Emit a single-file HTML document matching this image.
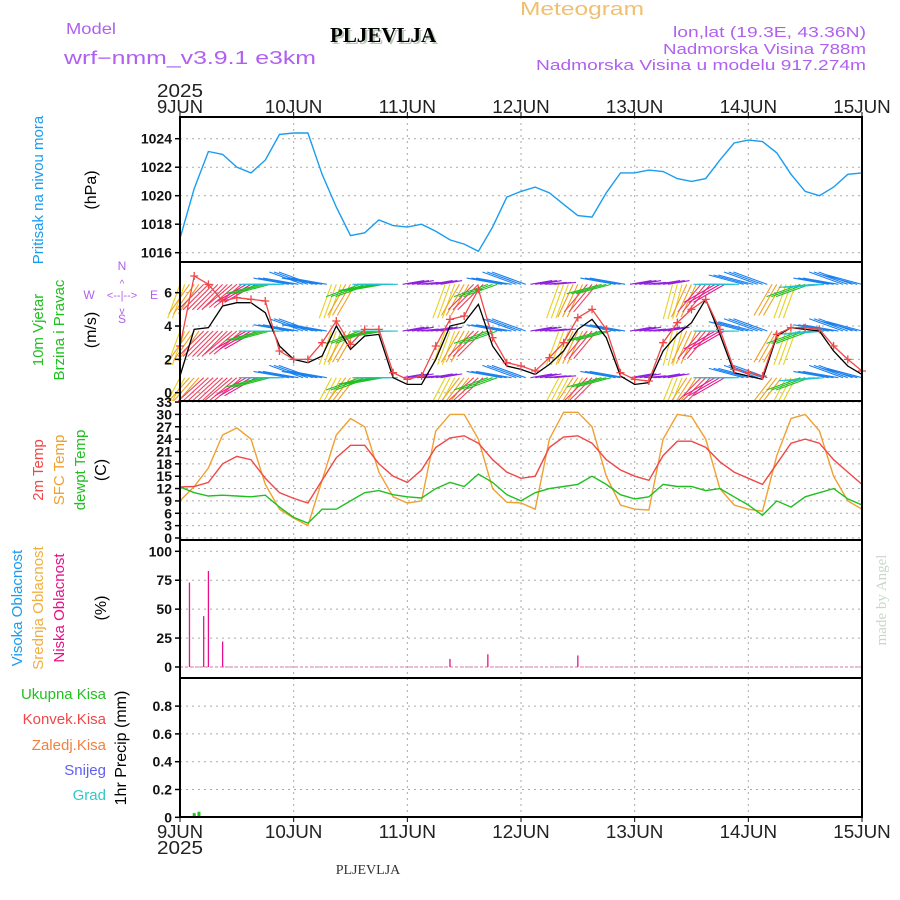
<!DOCTYPE html>
<html><head><meta charset="utf-8"><style>
body{margin:0;background:#fff}
svg{display:block;font-family:"Liberation Sans",sans-serif}
</style></head><body>
<svg id="chart" width="900" height="900" viewBox="0 0 900 900" xmlns="http://www.w3.org/2000/svg">
<rect width="900" height="900" fill="#fff"/>
<g id="header">
<text x="66" y="34" fill="#b060f0" font-size="16" textLength="50" lengthAdjust="spacingAndGlyphs">Model</text>
<text x="64" y="64" fill="#b060f0" font-size="18" textLength="252" lengthAdjust="spacingAndGlyphs">wrf−nmm_v3.9.1  e3km</text>
<text x="332" y="44" fill="#b8c8b8" font-size="21" font-weight="bold" font-family="Liberation Serif,serif">PLJEVLJA</text>
<text x="330" y="42" fill="#000" font-size="21" font-weight="bold" font-family="Liberation Serif,serif">PLJEVLJA</text>
<text x="520" y="15" fill="#f0c070" font-size="18" textLength="124" lengthAdjust="spacingAndGlyphs">Meteogram</text>
<text x="866" y="37" fill="#b060f0" font-size="15" text-anchor="end" textLength="193" lengthAdjust="spacingAndGlyphs">lon,lat (19.3E, 43.36N)</text>
<text x="866" y="54" fill="#b060f0" font-size="15" text-anchor="end" textLength="203" lengthAdjust="spacingAndGlyphs">Nadmorska Visina 788m</text>
<text x="866" y="70" fill="#b060f0" font-size="15" text-anchor="end" textLength="330" lengthAdjust="spacingAndGlyphs">Nadmorska Visina u modelu 917.274m</text>
<text x="368" y="874" fill="#333" font-size="14" text-anchor="middle" font-family="Liberation Serif,serif">PLJEVLJA</text>
<text transform="translate(886,600) rotate(-90)" fill="#c8d8c8" font-size="15" text-anchor="middle" font-family="Liberation Serif,serif">made by Angel</text>
</g>
<g id="g-grid"></g>
<g id="g-marks"></g>
<g id="g-axes"></g>
<g id="g-labels"></g>
</svg>
<script>
// ---- data (3-hourly from 9 JUN 00 UTC) ----
const hours = [0,3,6,9,12,15,18,21,24,27,30,33,36,39,42,45,48,51,54,57,60,63,66,69,72,75,78,81,84,87,90,93,96,99,102,105,108,111,114,117,120,123,126,129,132,135,138,141,144];
const dayLabels = ["9JUN","10JUN","11JUN","12JUN","13JUN","14JUN","15JUN"];
const pressure = [1017,1020.5,1023.1,1022.9,1022,1021.6,1022.5,1024.3,1024.4,1024.4,1021.5,1019.2,1017.2,1017.4,1018.3,1017.9,1017.8,1018.0,1017.5,1016.9,1016.6,1016.1,1017.8,1019.9,1020.3,1020.6,1020.2,1019.4,1018.6,1018.5,1020.2,1021.6,1021.6,1021.8,1021.7,1021.2,1021.0,1021.2,1022.5,1023.7,1023.9,1023.8,1023,1021.5,1020.3,1020,1020.6,1021.5,1021.6];
const windSpeed = [1,3.8,3.9,5.2,5.4,5.4,4.8,2.8,2,1.8,2.2,4,2.6,3.4,3.5,0.9,0.5,0.5,2,4,4.2,5.3,2.8,1.6,1.4,1.1,1.7,2.5,3.8,4.4,3.3,1,0.5,0.6,2.5,3.5,4.2,5.6,3.5,1.2,1,0.8,3.4,3.9,3.8,3.7,2.5,1.6,1.1];
const windGust = [2.8,7,6.5,5.5,5.7,5.6,5.5,2.5,2,2,3,4.3,2.9,3.8,3.8,1.2,0.8,1.0,2.8,4.4,4.6,6.2,3.3,1.8,1.6,1.3,2.1,3,4.5,5,3.8,1.2,0.8,0.7,3,4.2,5,5.6,3.8,1.4,1.2,1,3.5,3.9,3.9,3.8,2.8,2,1.3];
const windDir = [20,35,45,45,50,60,75,90,100,110,100,20,30,70,80,90,260,265,260,20,30,45,70,100,110,260,265,20,25,40,75,100,260,265,260,15,25,40,60,90,105,110,30,20,70,85,100,110,105];
const temp2m = [12.4,12.5,13.5,18,19.8,19,14.5,11,9.6,8.5,14,19.5,22.5,22.5,18,15,13.5,16.5,22,24.3,24.8,23,19,16,14.5,15,22,24.5,24.8,23,19,16.5,15,14,20,23.5,23.5,22,18.5,16,14.5,13,18,23,24,23,19,16,13];
const tempSfc = [9,12.5,17,25,26.7,24,13,7,4.8,3,14,25,29,27,16,10,8.5,9,26,30,30,24,12,8.7,8.5,7,24,30.5,30.5,27,15,8,7,6.8,24,30,29.5,24,12,8,7,6.5,20,29,30,26,15,9,7];
const tempDew = [12.4,11,10.2,10.4,10.2,10,10.4,7.5,5,3.6,7,7,9,11,11.5,10.5,10,9.7,12,13.5,12.5,15.5,13.5,10.5,9,11,12,12.5,13,15,13,10.5,9.5,10,13,12.5,12.5,11.5,12,10,8,5.5,9,7.5,10,11,12,9.5,8];
const lowCloudHours = [2,5,6,9,57,65,84];
const lowCloudValues = [73,44,83,22,7,11,10];
const precipHours = [3,4];
const precipValues = [0.03,0.04];
const pressureTicks = [1016,1018,1020,1022,1024];
const windTicks = [0,2,4,6];
const tempTicks = [0,3,6,9,12,15,18,21,24,27,30,33];
const cloudTicks = [0,25,50,75,100];
const precipTicks = [0,0.2,0.4,0.6,0.8];
const precipTickLabels = ["0","0.2","0.4","0.6","0.8"];

// ---- layout ----
const X0=180,X1=862;
const xs = h => X0 + h*(X1-X0)/144;
const panels = {
  p:{top:117,bot:262,y:v=>138.7+(1024-v)*14.25},
  w:{top:262,bot:401,y:v=>392.7-v*16.67},
  t:{top:401,bot:540,y:v=>538-v*4.12},
  c:{top:540,bot:678,y:v=>667-v*1.157},
  r:{top:678,bot:817,y:v=>817.3-v*139}
};
const NS="http://www.w3.org/2000/svg";
function mk(parent,tag,attrs){const e=document.createElementNS(NS,tag);for(const k in attrs)e.setAttribute(k,attrs[k]);parent.appendChild(e);return e;}
const gGrid=document.getElementById('g-grid'),gM=document.getElementById('g-marks'),gA=document.getElementById('g-axes'),gL=document.getElementById('g-labels');

function panelAxes(key,ticks,labels,name){
  const P=panels[key];
  for(let d=1;d<6;d++){
    const l=mk(gGrid,'line',{x1:xs(d*24),x2:xs(d*24),y1:P.top,y2:P.bot,stroke:'#aaa','stroke-dasharray':'2,4'});
    
    
  }
  ticks.forEach((t,i)=>{
    const y=P.y(t);
    const g=mk(gGrid,'line',{x1:X0,x2:X1,y1:y,y2:y,stroke:'#aaa','stroke-dasharray':'2,4'});
    
    
    mk(gA,'line',{x1:X0-5,x2:X0,y1:y,y2:y,stroke:'#000','stroke-width':1.5});
    const tx=mk(gA,'text',{x:X0-8,y:y+5,'text-anchor':'end','font-size':14,'font-weight':'bold',fill:'#111'});
    tx.textContent=labels?labels[i]:String(t);
    
    
  });
  const r=mk(gA,'rect',{x:X0,y:P.top,width:X1-X0,height:P.bot-P.top,fill:'none',stroke:'#000','stroke-width':2});
  
  
}
panelAxes('p',pressureTicks,null,'pressure-panel');
panelAxes('w',windTicks,null,'wind-panel');
panelAxes('t',tempTicks,null,'temp-panel');
panelAxes('c',cloudTicks,null,'cloud-panel');
panelAxes('r',precipTicks,precipTickLabels,'precip-panel');

dayLabels.forEach((d,i)=>{
  const x=xs(i*24);
  mk(gA,'line',{x1:x,x2:x,y1:112,y2:117,stroke:'#000'});
  mk(gA,'line',{x1:x,x2:x,y1:817,y2:822,stroke:'#000'});
  const t1=mk(gA,'text',{x:x,y:113,'text-anchor':'middle','font-size':18,fill:'#222',textLength:d.length*11.5,lengthAdjust:'spacingAndGlyphs'});
  t1.textContent=d;
  
  
  const t2=mk(gA,'text',{x:x,y:838,'text-anchor':'middle','font-size':18,fill:'#222',textLength:d.length*11.5,lengthAdjust:'spacingAndGlyphs'});
  t2.textContent=d;
  
  
});
[[97],[854]].forEach(([y])=>{
  const t=mk(gA,'text',{x:X0,y:y,'text-anchor':'middle','font-size':18,fill:'#222',textLength:46,lengthAdjust:'spacingAndGlyphs'});
  t.textContent='2025';
  
  
});

function line(key,vals,color,name,w){
  const P=panels[key];
  const pts=vals.map((v,i)=>xs(hours[i]).toFixed(1)+','+P.y(v).toFixed(1)).join(' ');
  const l=mk(gM,'polyline',{points:pts,fill:'none',stroke:color,'stroke-width':w||1.4});
  
  
}
line('p',pressure,'#1a9cf0','pressure-line');

function dirColor(d){
  if(d>=200) return '#9020e0';
  if(d<=22) return '#e8d020';
  if(d<=35) return '#f0a020';
  if(d<=50) return '#f04060';
  if(d<=65) return '#e81890';
  if(d<=80) return '#20c020';
  if(d<=95) return '#20c0d0';
  return '#1a80f0';
}
const rows=[6.5,3.7,0.9];
const wg=mk(gM,'g',{'stroke-width':1.1});


for(let h=0;h<=144;h++){
  const i=Math.min(48,Math.round(h/3));
  const d=windDir[i], to=(d+180)*Math.PI/180;
  const L=d>=200?22:36;
  const dx=Math.sin(to)*L, dy=-Math.cos(to)*L;
  rows.forEach(r=>{
    const x=xs(h), y=panels.w.y(r);
    const x2=x+dx, y2=Math.min(panels.w.bot,Math.max(panels.w.top,y+dy));
    const a=mk(wg,'line',{x1:x,y1:y,x2:x2,y2:y2,stroke:dirColor(d)});
    
    
  });
}
line('w',windSpeed,'#000','wind-speed-line',1.3);
line('w',windGust,'#f04848','wind-gust-line',1.3);
windGust.forEach((v,i)=>{
  const x=xs(hours[i]),y=panels.w.y(v);
  const m=mk(gM,'path',{d:`M${x-4},${y}H${x+4}M${x},${y-4}V${y+4}`,stroke:'#f04848','stroke-width':1.3});
  
  
});

line('t',tempSfc,'#f0a030','sfc-temp-line');
line('t',temp2m,'#f04848','temp-2m-line');
line('t',tempDew,'#20c020','dewpoint-line');

const cz=panels.c.y(0);
const cb=mk(gM,'line',{x1:X0,x2:X1,y1:cz,y2:cz,stroke:'#e070b0','stroke-dasharray':'3,2'});


lowCloudHours.forEach((h,i)=>{
  const b=mk(gM,'line',{x1:xs(h),x2:xs(h),y1:cz,y2:panels.c.y(lowCloudValues[i]),stroke:'#e8108a','stroke-width':1.3});
  
  
});
precipHours.forEach((h,i)=>{
  const y=panels.r.y(precipValues[i]);
  const b=mk(gM,'rect',{x:xs(h)-1.5,y:y,width:3,height:panels.r.y(0)-y,fill:'#20c020'});
  
  
});

function vlab(x,y,txt,color,name,size){
  const t=mk(gL,'text',{transform:`translate(${x},${y}) rotate(-90)`,'text-anchor':'middle','font-size':size||15,fill:color});
  t.textContent=txt;
  
  
}
function hlab(x,y,txt,color,name,size,anchor){
  const t=mk(gL,'text',{x:x,y:y,'text-anchor':anchor||'end','font-size':size||15,fill:color});
  t.textContent=txt;
  
  
}
vlab(43,190,'Pritisak na nivou mora','#1a9cf0','pressure-title');
vlab(96,190,'(hPa)','#000','pressure-unit',16);
vlab(43,330,'10m Vjetar','#20c020','wind-title');
vlab(64,330,'Brzina i Pravac','#20c020','wind-subtitle');
vlab(96,330,'(m/s)','#000','wind-unit',16);
vlab(43,470,'2m Temp','#f04848','temp-2m-title');
vlab(64,470,'SFC Temp','#f0a030','sfc-temp-title');
vlab(85,470,'dewpt Temp','#20c020','dewpt-title');
vlab(106,470,'(C)','#000','temp-unit',16);
vlab(22,608,'Visoka Oblacnost','#1a9cf0','high-cloud-title');
vlab(43,608,'Srednja Oblacnost','#f0b040','mid-cloud-title');
vlab(64,608,'Niska Oblacnost','#e8108a','low-cloud-title');
vlab(106,608,'(%)','#000','cloud-unit',16);
hlab(106,699,'Ukupna  Kisa','#20c020','total-precip-label');
hlab(106,724,'Konvek.Kisa','#f04848','convective-precip-label');
hlab(106,750,'Zaledj.Kisa','#f08040','freezing-rain-label');
hlab(106,775,'Snijeg','#6060f0','snow-label');
hlab(106,800,'Grad','#30c8c8','hail-label');
vlab(126,748,'1hr Precip (mm)','#000','precip-unit',16);
hlab(122,270,'N','#b060f0','compass-n',12,'middle');
hlab(122,323,'S','#b060f0','compass-s',12,'middle');
hlab(89,299,'W','#b060f0','compass-w',12,'middle');
hlab(154,299,'E','#b060f0','compass-e',12,'middle');
hlab(122,299,'<--|-->','#b060f0','compass-arrows',11,'middle');
hlab(122,287,'^','#b060f0','compass-up',10,'middle');
hlab(122,314,'v','#b060f0','compass-down',10,'middle');
</script>
</body></html>
